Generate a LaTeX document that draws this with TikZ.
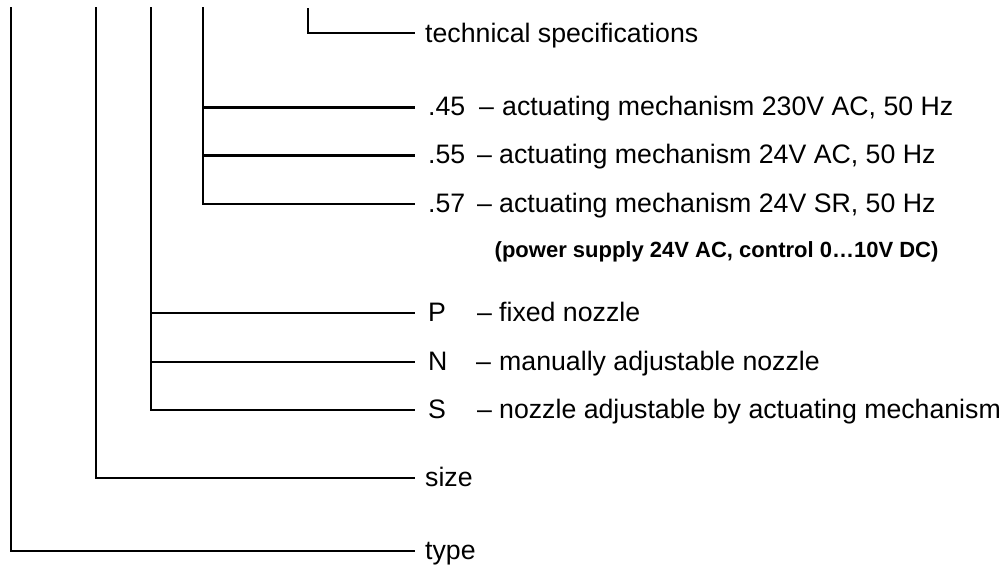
\documentclass[tikz,border=0pt]{standalone}
\usepackage{fontspec}
\setmainfont{Liberation Sans}
\begin{document}
\begin{tikzpicture}[x=1pt,y=-1pt,
  tree/.style={line width=2.8pt},
  lbl/.style={anchor=base west, inner sep=0pt, font=\fontsize{26.7}{30}\selectfont},
  note/.style={anchor=base west, inner sep=0pt, font=\bfseries\fontsize{22}{26}\selectfont}]
\useasboundingbox (0,0) rectangle (1007,565);
% tops of the verticals
\coordinate (ttype) at (11,7);
\coordinate (tsize) at (96,7);
\coordinate (tnoz) at (151,7);
\coordinate (tact) at (203,7);
\coordinate (tspec) at (308,8);
% line ends
\coordinate (espec) at (415,33);
\coordinate (e45) at (415,107.5);
\coordinate (e55) at (415,155.5);
\coordinate (e57) at (415,204);
\coordinate (eP) at (415,313);
\coordinate (eN) at (415,362);
\coordinate (eS) at (415,410);
\coordinate (esize) at (415,478);
\coordinate (etype) at (415,551);
% connectors
\draw[tree] (ttype) |- (etype);
\draw[tree] (tsize) |- (esize);
\draw[tree] (tnoz) |- (eS);
\draw[tree] (eP -| tnoz) -- (eP);
\draw[tree] (eN -| tnoz) -- (eN);
\draw[tree] (tact) |- (e57);
\draw[tree] (e45 -| tact) -- (e45);
\draw[tree] (e55 -| tact) -- (e55);
\draw[tree] (tspec) |- (espec);
% labels
\node[lbl] (spec) at (425,42) {technical specifications};
\node[lbl] (c45) at (428,115.5) {.45};
\node[lbl] (d45) at (479,115.5) {–};
\node[lbl] (t45) at (502,115.5) {actuating mechanism 230V AC, 50 Hz};
\node[lbl] (c55) at (428,163.5) {.55};
\node[lbl] (d55) at (477,163.5) {–};
\node[lbl] (t55) at (499,163.5) {actuating mechanism 24V AC, 50 Hz};
\node[lbl] (c57) at (428,212) {.57};
\node[lbl] (d57) at (477,212) {–};
\node[lbl] (t57) at (499,212) {actuating mechanism 24V SR, 50 Hz};
\node[note] (ps) at (494.5,257.5) {(power supply 24V AC, control 0…10V DC)};
\node[lbl] (cP) at (428,321) {P};
\node[lbl] (dP) at (477,321) {–};
\node[lbl] (tP) at (499,321) {fixed nozzle};
\node[lbl] (cN) at (428,370) {N};
\node[lbl] (dN) at (476,370) {–};
\node[lbl] (tN) at (499,370) {manually adjustable nozzle};
\node[lbl] (cS) at (428,418) {S};
\node[lbl] (dS) at (477,418) {–};
\node[lbl] (tS) at (499,418) {nozzle adjustable by actuating mechanism};
\node[lbl] (size) at (425,486) {size};
\node[lbl] (type) at (425,559) {type};
\end{tikzpicture}
\end{document}
